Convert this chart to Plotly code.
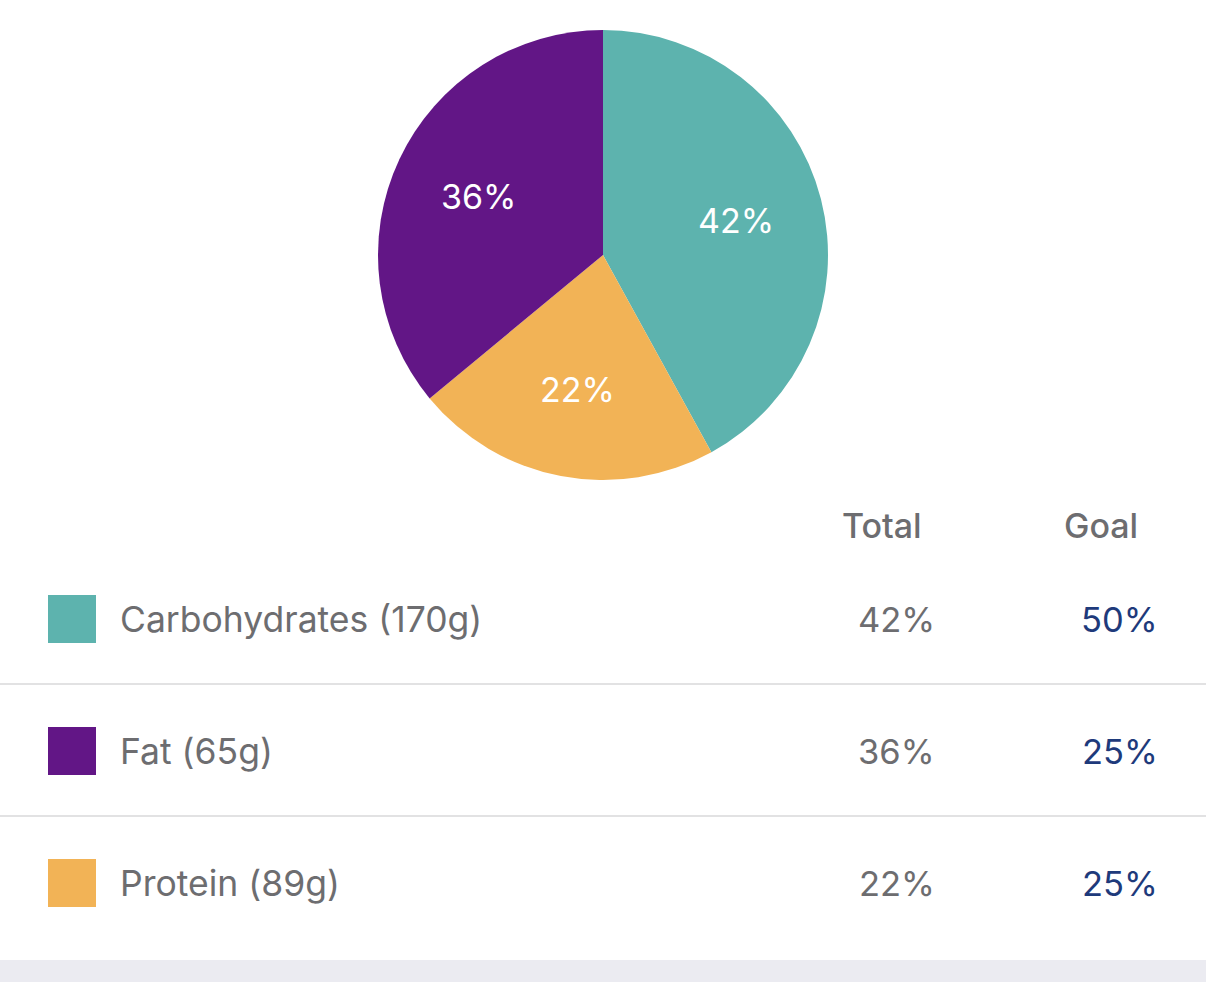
import math
import plotly.graph_objects as go

W, H = 1206, 982

# data
macros = ["Carbohydrates", "Protein", "Fat"]
grams = [170, 89, 65]
total_pct = [42, 22, 36]
goal_pct = [50, 25, 25]
colors = ["#5DB3AE", "#F2B356", "#621686"]

# table row order differs from pie order
table_order = ["Carbohydrates", "Fat", "Protein"]
col_headers = ["Total", "Goal"]

GRAY = "#6D6D70"
NAVY = "#1E3A7B"
FONT = "Inter, Roboto, sans-serif"


def px(x):
    return x / W


def py(y):
    return 1 - y / H


# pie geometry (pixels)
cx, cy, r = 603, 255, 225

fig = go.Figure()
fig.add_trace(go.Pie(
    labels=macros,
    values=total_pct,
    sort=False,
    direction="clockwise",
    rotation=0,
    marker=dict(colors=colors, line=dict(width=0)),
    textinfo="none",
    hoverinfo="label+percent",
    domain=dict(x=[px(cx - r), px(cx + r)], y=[py(cy + r), py(cy - r)]),
    showlegend=False,
))

annotations = []
shapes = []

# slice labels at the mid angle of each slice
start = 0.0
tot = sum(total_pct)
for name, v in zip(macros, total_pct):
    mid = (start + v / 2) / tot * 2 * math.pi
    start += v
    lx = cx + 0.61 * r * math.sin(mid)
    ly = cy - 0.61 * r * math.cos(mid)
    annotations.append(dict(
        x=px(lx), y=py(ly), xref="paper", yref="paper",
        text=f"{v}%", showarrow=False,
        font=dict(family=FONT, size=34, color="white"),
        xanchor="center", yanchor="middle",
    ))

# table header
header_x = [882, 1101]
for hx, txt in zip(header_x, col_headers):
    annotations.append(dict(
        x=px(hx), y=py(525), xref="paper", yref="paper", text=txt,
        showarrow=False, xanchor="center", yanchor="middle",
        font=dict(family=FONT, size=34, color=GRAY, weight=500),
    ))

row_y0, row_step = 619, 132
for i, name in enumerate(table_order):
    k = macros.index(name)
    yc = row_y0 + i * row_step
    shapes.append(dict(
        type="rect", xref="paper", yref="paper",
        x0=px(48), x1=px(96), y0=py(yc + 24), y1=py(yc - 24),
        fillcolor=colors[k], line=dict(width=0),
    ))
    annotations.append(dict(
        x=px(118), y=py(yc), xref="paper", yref="paper",
        text=f"{name} ({grams[k]}g)", showarrow=False,
        xanchor="left", yanchor="middle",
        font=dict(family=FONT, size=35.5, color=GRAY),
    ))
    annotations.append(dict(
        x=px(937), y=py(yc), xref="paper", yref="paper",
        text=f"{total_pct[k]}%", showarrow=False,
        xanchor="right", yanchor="middle",
        font=dict(family=FONT, size=34.5, color=GRAY),
    ))
    annotations.append(dict(
        x=px(1160), y=py(yc), xref="paper", yref="paper",
        text=f"{goal_pct[k]}%", showarrow=False,
        xanchor="right", yanchor="middle",
        font=dict(family=FONT, size=34.5, color=NAVY),
    ))
    if i < len(table_order) - 1:
        shapes.append(dict(
            type="line", xref="paper", yref="paper",
            x0=0, x1=1, y0=py(yc + 65), y1=py(yc + 65),
            line=dict(color="#D8D8DA", width=1.5),
        ))

# bottom band
shapes.append(dict(
    type="rect", xref="paper", yref="paper",
    x0=0, x1=1, y0=0, y1=py(960),
    fillcolor="#EBEBF1", line=dict(width=0), layer="below",
))

fig.update_layout(
    width=W, height=H,
    margin=dict(l=0, r=0, t=0, b=0),
    paper_bgcolor="white",
    plot_bgcolor="white",
    annotations=annotations,
    shapes=shapes,
    font=dict(family=FONT),
)

fig.write_html("out.html", config={"displayModeBar": False},
               post_script="document.body.style.margin='0';")
